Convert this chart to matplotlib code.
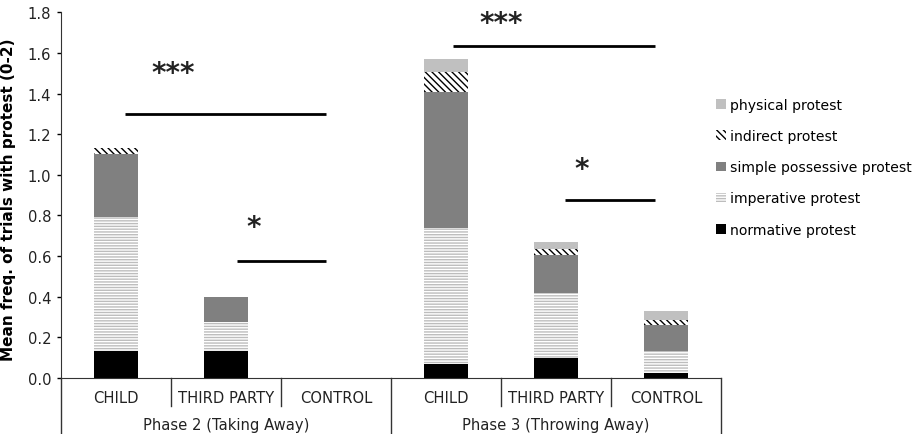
import matplotlib
matplotlib.use("Agg")
import matplotlib.pyplot as plt
import numpy as np

categories = ["CHILD", "THIRD PARTY", "CONTROL", "CHILD", "THIRD PARTY", "CONTROL"]
phases = ["Phase 2 (Taking Away)", "Phase 3 (Throwing Away)"]

normative = [0.133, 0.133, 0.0, 0.067, 0.095, 0.022]
imperative = [0.66, 0.14, 0.0, 0.67, 0.32, 0.111]
simple_possessive = [0.31, 0.127, 0.0, 0.67, 0.19, 0.127]
indirect = [0.03, 0.0, 0.0, 0.10, 0.028, 0.026]
physical = [0.0, 0.0, 0.0, 0.063, 0.035, 0.044]

series_names = ["normative protest", "imperative protest", "simple possessive protest",
                "indirect protest", "physical protest"]

# significance brackets: (x_start, x_end, y)
sig_lines = [(0.08, 1.91, 1.30), (1.10, 1.91, 0.576), (3.06, 4.90, 1.635), (4.08, 4.90, 0.875)]
sig_labels = [("***", 0.52, 1.50), ("*", 1.25, 0.74), ("***", 3.50, 1.745), ("*", 4.23, 1.03)]

plt.rcParams["font.family"] = ["DejaVu Sans"]
plt.rcParams["hatch.linewidth"] = 1.0

fig = plt.figure(figsize=(9.21, 4.35), dpi=100)
ax = fig.add_axes([0.0662, 0.1294, 0.7168, 0.8400])

x = np.arange(len(categories))
w = 0.4
styles = [
    dict(facecolor="black", edgecolor="black", hatch=None),
    dict(facecolor="white", edgecolor="#bdbdbd", hatch="------"),
    dict(facecolor="#808080", edgecolor="#808080", hatch=None),
    dict(facecolor="white", edgecolor="black", hatch="\\\\\\\\\\"),
    dict(facecolor="#c0c0c0", edgecolor="#c0c0c0", hatch=None),
]
data = [normative, imperative, simple_possessive, indirect, physical]
bottom = np.zeros(len(categories))
handles = []
for vals, st, name in zip(data, styles, series_names):
    vals = np.array(vals)
    b = ax.bar(x, vals, w, bottom=bottom, facecolor=st["facecolor"],
               edgecolor=st["edgecolor"], hatch=st["hatch"], linewidth=0, label=name)
    handles.append(b)
    bottom += vals

fs = 10.6
ax.set_xlim(-0.5, 5.5)
ax.set_ylim(0, 1.8)
ax.set_yticks(np.arange(0, 1.81, 0.2))
ax.set_yticklabels([f"{v:.1f}" for v in np.arange(0, 1.81, 0.2)], fontsize=fs, color="#222222")
ax.tick_params(axis="y", length=3, width=1, pad=4)
ax.set_xticks([])
for s in ["top", "right"]:
    ax.spines[s].set_visible(False)
ax.spines["left"].set_color("#333333")
ax.spines["bottom"].set_color("#333333")

ax.set_ylabel("Mean freq. of trials with protest (0-2)", fontsize=11, fontweight="bold")
ax.yaxis.set_label_coords(-0.068, 0.49)

tr = ax.get_xaxis_transform()
for xd in [0.5, 1.5, 3.5, 4.5]:
    ax.plot([xd, xd], [0, -0.077], transform=tr, color="#333333", lw=1, clip_on=False)
for xd in [-0.5, 2.5, 5.5]:
    ax.plot([xd, xd], [0, -0.16], transform=tr, color="#333333", lw=1, clip_on=False)
for xi, c in zip(x, categories):
    ax.text(xi, -0.053, c, transform=tr, ha="center", va="center", fontsize=fs, color="#222222")
for i, p in enumerate(phases):
    ax.text(1 + 3 * i, -0.128, p, transform=tr, ha="center", va="center", fontsize=fs, color="#222222")

for x0, x1, yv in sig_lines:
    ax.plot([x0, x1], [yv, yv], color="black", lw=2, solid_capstyle="butt")
for lab, lx, ly in sig_labels:
    ax.text(lx, ly, lab, ha="center", va="center", fontsize=20, fontweight="bold", color="#222222")

leg = fig.legend(handles[::-1], series_names[::-1], loc="upper left",
                 bbox_to_anchor=(0.771, 0.785), frameon=False, fontsize=10.1,
                 handlelength=0.7, handleheight=0.7, handletextpad=0.3,
                 labelspacing=1.22, borderaxespad=0)

fig.savefig("out.png", dpi=100)
